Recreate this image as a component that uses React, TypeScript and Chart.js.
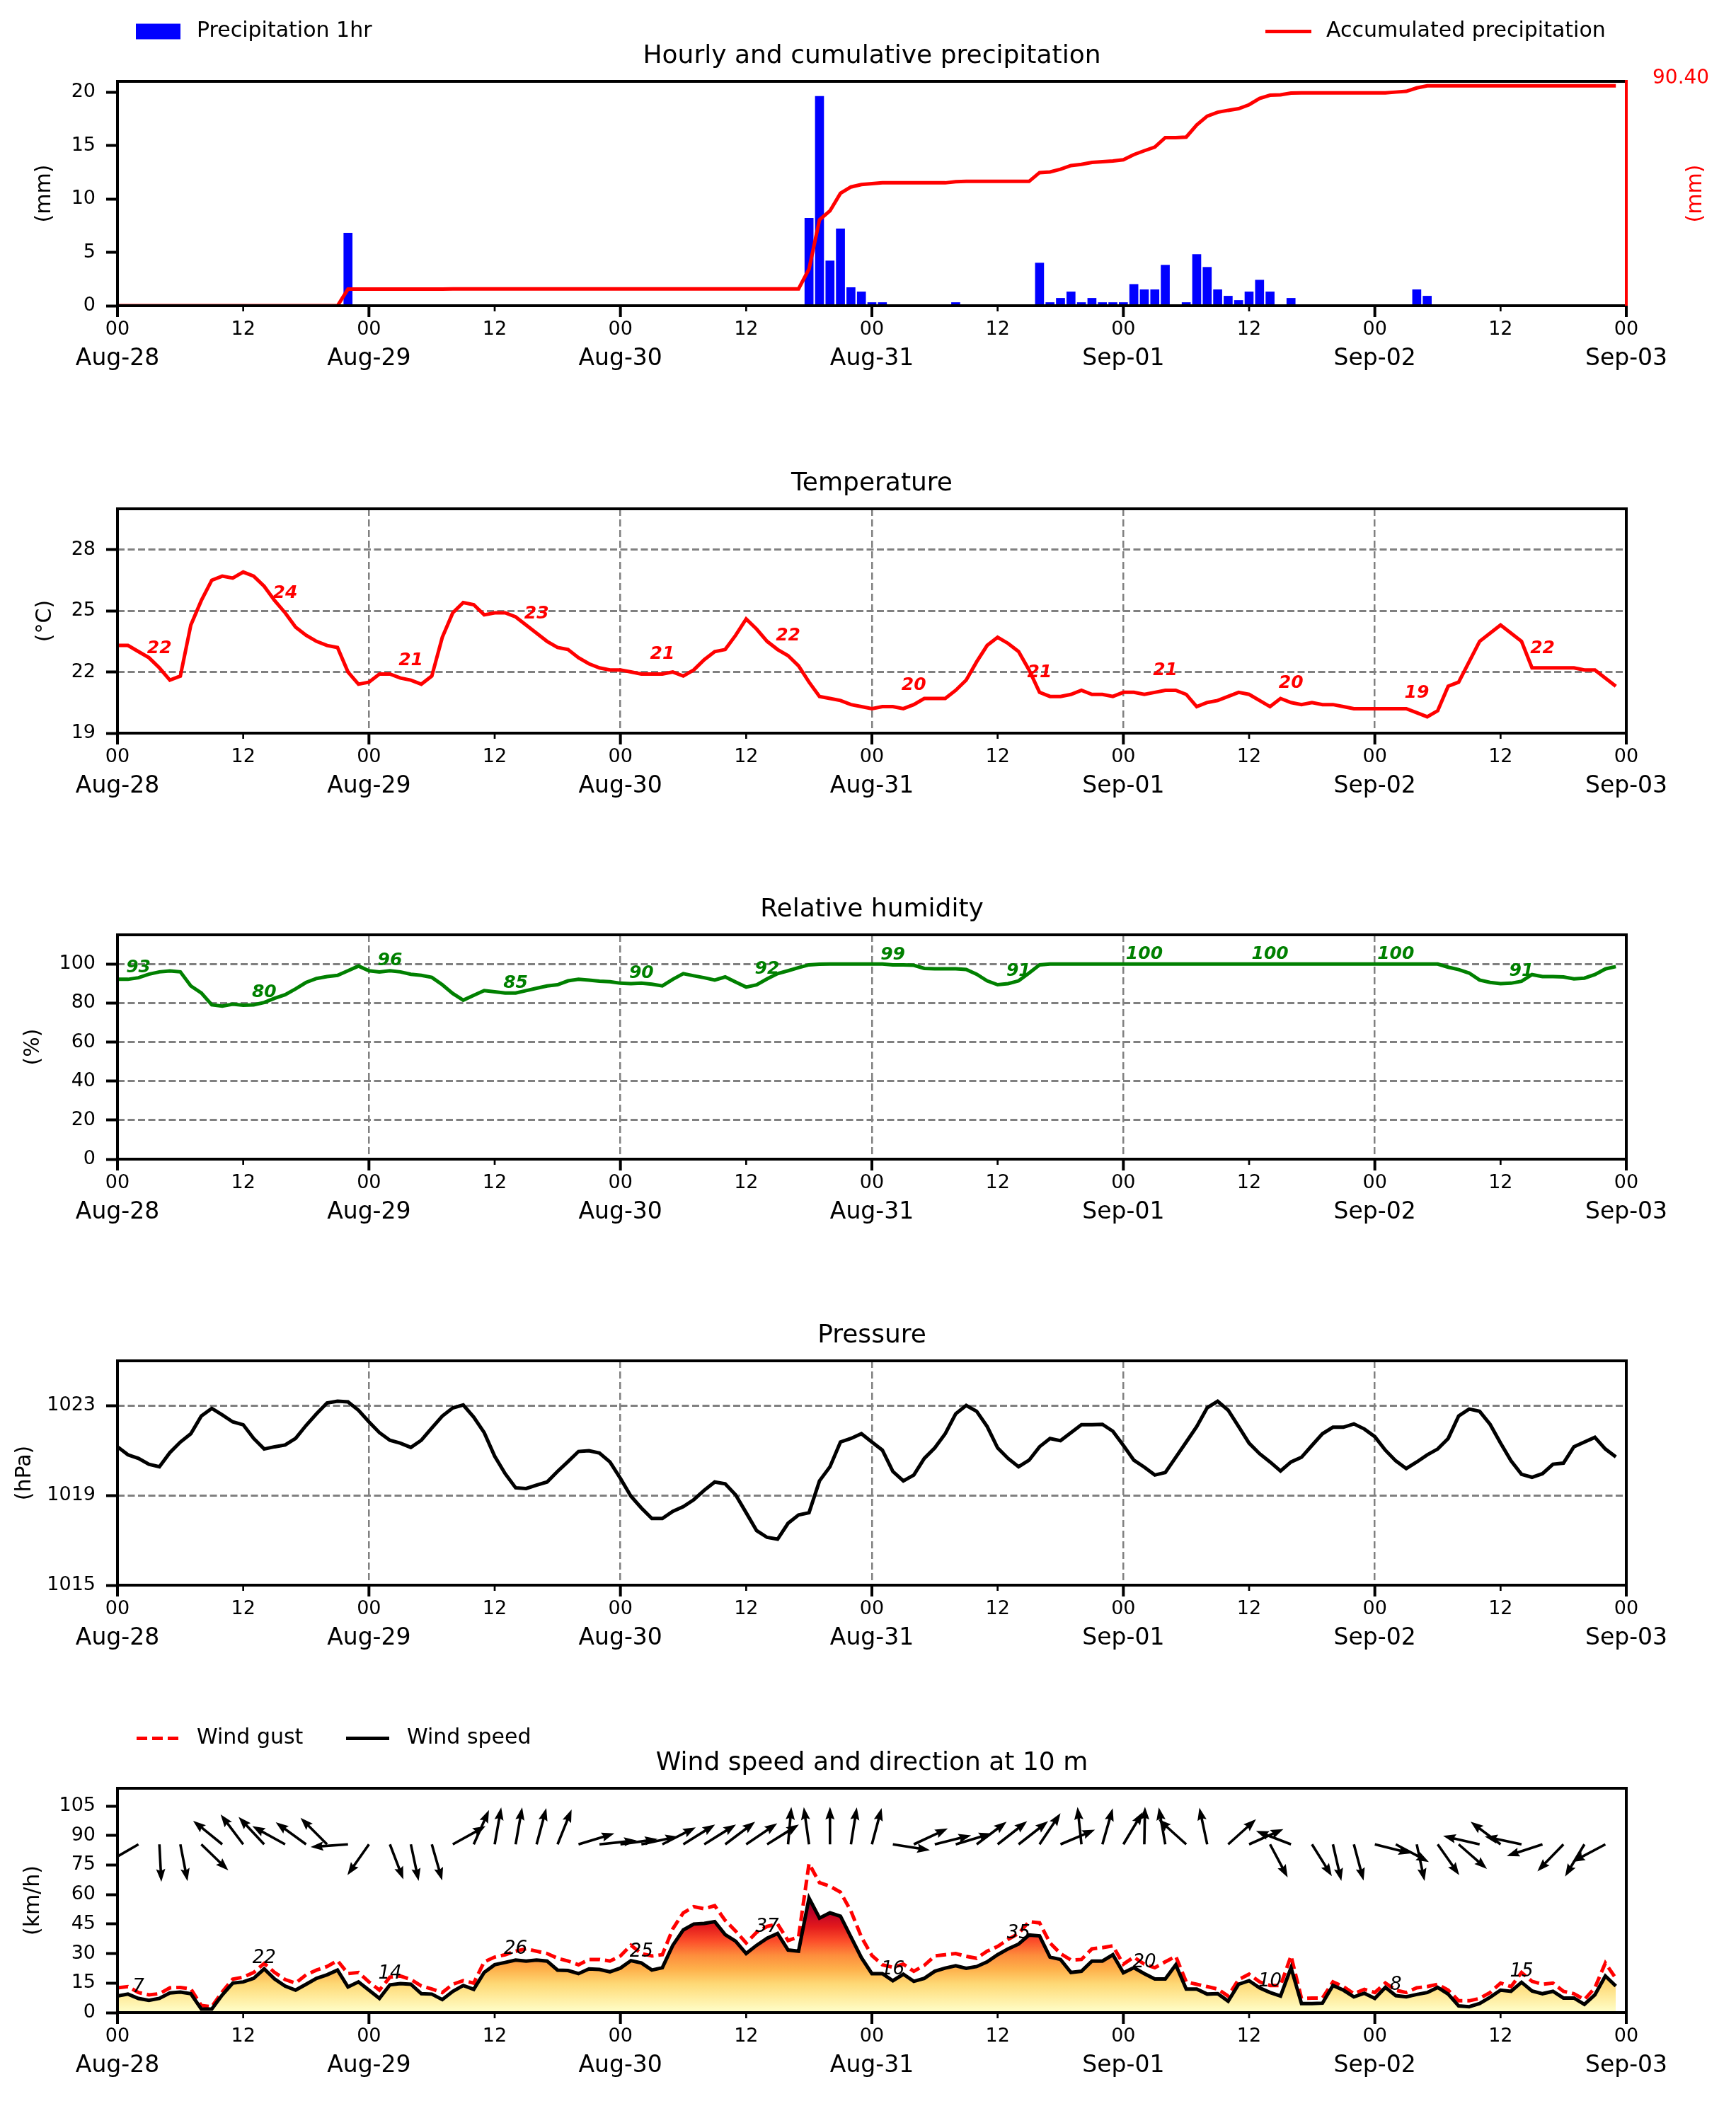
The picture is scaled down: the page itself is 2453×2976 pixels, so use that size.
import React, { useEffect, useRef } from 'react';
import { Chart, registerables } from 'chart.js';

Chart.register(...registerables);

const FONT = 'DejaVu Sans';
Chart.defaults.font.family = FONT;
Chart.defaults.color = '#000';

// ---------------- data ----------------
const dateLabels = ['Aug-28', 'Aug-29', 'Aug-30', 'Aug-31', 'Sep-01', 'Sep-02', 'Sep-03'];
const hourTicks = [0, 12, 24, 36, 48, 60, 72, 84, 96, 108, 120, 132, 144];
const dayTicks = [0, 24, 48, 72, 96, 120, 144];

// precipitation (mm per hour), hour index from Aug-28 00
const precipHours = [22, 32, 66, 67, 68, 69, 70, 71, 72, 73, 80, 81, 88, 89, 90, 91, 92, 93, 94, 95, 96, 97, 98, 99, 100, 101, 102, 103, 104, 105, 106, 107, 108, 109, 110, 111, 112, 113, 122, 123, 124, 125];
const precipValues = [6.8, 0.1, 8.2, 19.6, 4.2, 7.2, 1.7, 1.3, 0.3, 0.3, 0.3, 0.1, 4.0, 0.3, 0.7, 1.3, 0.3, 0.7, 0.3, 0.3, 0.3, 2.0, 1.5, 1.5, 3.8, 0.1, 0.3, 4.8, 3.6, 1.5, 0.9, 0.5, 1.3, 2.4, 1.3, 0.1, 0.7, 0.1, 0.1, 0.1, 1.5, 0.9];
const accumHours = [0, 21, 22, 31, 32, 65, 66, 67, 68, 69, 70, 71, 72, 73, 79, 80, 81, 87, 88, 89, 90, 91, 92, 93, 94, 95, 96, 97, 98, 99, 100, 101, 102, 103, 104, 105, 106, 107, 108, 109, 110, 111, 112, 113, 121, 122, 123, 124, 125, 143];
const accumValues = [0, 0, 6.8, 6.8, 6.9, 6.9, 15.1, 35.3, 39.0, 46.2, 48.8, 49.8, 50.2, 50.5, 50.5, 51.0, 51.1, 51.1, 54.7, 55.0, 56.1, 57.6, 58.1, 58.9, 59.2, 59.5, 60.0, 62.1, 63.7, 65.2, 69.1, 69.1, 69.3, 74.3, 77.9, 79.5, 80.3, 81.0, 82.6, 85.2, 86.5, 86.7, 87.4, 87.5, 87.5, 87.8, 88.1, 89.5, 90.4, 90.4];
const accumTotal = 90.4;
const accumTotalLabel = '90.40';
const precipTicks = [0, 5, 10, 15, 20];

// temperature (°C), hourly
const temperature = [
  23.3, 23.3, 23.0, 22.7, 22.2, 21.6, 21.8, 24.3, 25.5, 26.5,
  26.7, 26.6, 26.9, 26.7, 26.2, 25.5, 24.9, 24.2, 23.8, 23.5,
  23.3, 23.2, 22.0, 21.4, 21.5, 21.9, 21.9, 21.7, 21.6, 21.4,
  21.8, 23.7, 24.9, 25.4, 25.3, 24.8, 24.9, 24.9, 24.7, 24.3,
  23.9, 23.5, 23.2, 23.1, 22.7, 22.4, 22.2, 22.1, 22.1, 22.0,
  21.9, 21.9, 21.9, 22.0, 21.8, 22.1, 22.6, 23.0, 23.1, 23.8,
  24.6, 24.1, 23.5, 23.1, 22.8, 22.3, 21.5, 20.8, 20.7, 20.6,
  20.4, 20.3, 20.2, 20.3, 20.3, 20.2, 20.4, 20.7, 20.7, 20.7,
  21.1, 21.6, 22.5, 23.3, 23.7, 23.4, 23.0, 22.1, 21.0, 20.8,
  20.8, 20.9, 21.1, 20.9, 20.9, 20.8, 21.0, 21.0, 20.9, 21.0,
  21.1, 21.1, 20.9, 20.3, 20.5, 20.6, 20.8, 21.0, 20.9, 20.6,
  20.3, 20.7, 20.5, 20.4, 20.5, 20.4, 20.4, 20.3, 20.2, 20.2,
  20.2, 20.2, 20.2, 20.2, 20.0, 19.8, 20.1, 21.3, 21.5, 22.5,
  23.5, 23.9, 24.3, 23.9, 23.5, 22.2, 22.2, 22.2, 22.2, 22.2,
  22.1, 22.1, 21.7, 21.3,
];
const tempTicks = [19, 22, 25, 28];
const tempLabelHours = [4, 16, 28, 40, 52, 64, 76, 88, 100, 112, 124, 136];
const tempLabelTexts = ['22', '24', '21', '23', '21', '22', '20', '21', '21', '20', '19', '22'];

// relative humidity (%), hourly
const humidity = [
  92.2, 92.2, 93.0, 94.8, 96.0, 96.5, 96.0, 88.8, 85.2, 79.1,
  78.5, 79.4, 78.9, 79.1, 80.3, 82.5, 84.3, 87.3, 90.6, 92.6,
  93.6, 94.2, 96.6, 99.0, 96.6, 96.0, 96.6, 96.0, 94.8, 94.2,
  93.2, 89.4, 84.9, 81.5, 84.0, 86.4, 85.8, 85.2, 85.2, 86.4,
  87.6, 88.8, 89.4, 91.4, 92.2, 91.8, 91.2, 91.0, 90.2, 90.0,
  90.2, 89.7, 88.8, 92.2, 95.1, 94.0, 93.0, 91.8, 93.4, 90.8,
  88.2, 89.4, 92.4, 95.1, 96.6, 98.2, 99.6, 99.9, 100, 100,
  100, 100, 100, 100, 99.6, 99.6, 99.4, 97.8, 97.6, 97.6,
  97.6, 97.2, 94.8, 91.4, 89.4, 90.0, 91.4, 95.4, 99.6, 100,
  100, 100, 100, 100, 100, 100, 100, 100, 100, 100,
  100, 100, 100, 100, 100, 100, 100, 100, 100, 100,
  100, 100, 100, 100, 100, 100, 100, 100, 100, 100,
  100, 100, 100, 100, 100, 100, 100, 98.4, 97.2, 95.4,
  91.8, 90.6, 90.0, 90.2, 91.2, 94.6, 93.6, 93.6, 93.4, 92.4,
  92.8, 94.6, 97.5, 98.7,
];
const humTicks = [0, 20, 40, 60, 80, 100];
const humLabelHours = [2, 14, 26, 38, 50, 62, 74, 86, 98, 110, 122, 134];
const humLabelTexts = ['93', '80', '96', '85', '90', '92', '99', '91', '100', '100', '100', '91'];

// pressure (hPa), hourly
const pressure = [
  1021.17, 1020.81, 1020.65, 1020.39, 1020.28, 1020.91, 1021.38, 1021.75, 1022.54, 1022.88,
  1022.59, 1022.28, 1022.15, 1021.54, 1021.07, 1021.17, 1021.25, 1021.54, 1022.12, 1022.64,
  1023.12, 1023.2, 1023.17, 1022.8, 1022.28, 1021.8, 1021.46, 1021.33, 1021.14, 1021.46,
  1022.01, 1022.54, 1022.9, 1023.03, 1022.49, 1021.8, 1020.75, 1019.97, 1019.34, 1019.31,
  1019.46, 1019.6, 1020.07, 1020.51, 1020.96, 1020.99, 1020.89, 1020.49, 1019.76, 1018.97,
  1018.44, 1017.97, 1017.97, 1018.29, 1018.5, 1018.81, 1019.23, 1019.6, 1019.52, 1019.02,
  1018.23, 1017.43, 1017.13, 1017.05, 1017.76, 1018.13, 1018.23, 1019.65, 1020.28, 1021.38,
  1021.54, 1021.75, 1021.38, 1021.02, 1020.07, 1019.65, 1019.91, 1020.65, 1021.12, 1021.75,
  1022.64, 1023.01, 1022.75, 1022.07, 1021.12, 1020.65, 1020.28, 1020.57, 1021.17, 1021.54,
  1021.44, 1021.8, 1022.15, 1022.15, 1022.17, 1021.86, 1021.23, 1020.57, 1020.26, 1019.91,
  1020.02, 1020.7, 1021.38, 1022.07, 1022.91, 1023.2, 1022.8, 1022.07, 1021.33, 1020.86,
  1020.49, 1020.09, 1020.49, 1020.7, 1021.23, 1021.75, 1022.04, 1022.04, 1022.19, 1021.96,
  1021.62, 1021.02, 1020.54, 1020.2, 1020.49, 1020.81, 1021.07, 1021.54, 1022.54, 1022.85,
  1022.75, 1022.17, 1021.33, 1020.54, 1019.94, 1019.81, 1019.97, 1020.39, 1020.44, 1021.17,
  1021.38, 1021.59, 1021.07, 1020.72,
];
const presTicks = [1015, 1019, 1023];

// wind (km/h), hourly
const windSpeed = [
  8.4, 9.4, 7.2, 6.2, 7.2, 10.0, 10.4, 9.6, 1.8, 1.8,
  9.0, 15.0, 15.6, 17.4, 22.2, 17.1, 13.5, 11.4, 14.4, 17.4,
  19.2, 21.6, 13.0, 15.6, 11.4, 7.2, 14.1, 14.7, 14.4, 9.6,
  9.4, 6.6, 10.8, 13.8, 11.8, 20.4, 24.3, 25.5, 26.7, 26.2,
  26.7, 26.2, 21.6, 21.4, 19.8, 22.2, 21.9, 20.7, 22.6, 26.4,
  25.2, 21.6, 22.8, 34.2, 42.0, 45.0, 45.3, 46.2, 39.6, 36.3,
  30.0, 34.2, 37.8, 40.2, 31.8, 31.2, 58.2, 48.0, 50.7, 49.0,
  38.4, 27.9, 19.8, 19.8, 16.2, 19.5, 15.9, 17.4, 21.0, 22.6,
  23.8, 22.5, 23.4, 25.8, 29.4, 32.4, 34.8, 39.4, 39.0, 28.2,
  27.0, 20.4, 21.0, 26.2, 26.2, 29.4, 20.2, 22.8, 19.8, 17.1,
  17.1, 24.3, 12.0, 12.0, 9.4, 9.6, 5.8, 14.4, 16.2, 12.6,
  10.2, 8.4, 22.8, 4.6, 4.6, 4.8, 13.8, 11.4, 8.0, 9.8,
  7.2, 12.8, 8.6, 8.0, 9.2, 10.2, 12.8, 9.4, 3.4, 3.0,
  4.6, 7.8, 11.4, 10.8, 15.4, 11.0, 9.6, 10.8, 7.4, 7.4,
  4.2, 9.0, 18.6, 13.5,
];
const windGust = [
  12.6, 13.2, 10.2, 9.0, 9.6, 12.6, 12.8, 12.0, 3.6, 3.0,
  10.5, 17.0, 18.0, 20.4, 25.0, 20.4, 16.8, 15.0, 19.2, 21.6,
  23.4, 26.4, 19.8, 20.4, 15.6, 11.4, 18.0, 18.6, 16.8, 13.5,
  12.0, 10.2, 14.4, 16.2, 15.0, 25.8, 28.2, 29.4, 31.2, 32.4,
  31.2, 30.0, 27.6, 26.2, 24.3, 27.0, 27.0, 26.2, 28.8, 34.2,
  30.0, 28.8, 29.4, 42.6, 50.7, 53.8, 52.8, 54.3, 46.8, 41.4,
  35.4, 40.8, 43.8, 45.0, 36.6, 38.4, 75.7, 66.0, 64.2, 61.2,
  51.6, 38.4, 29.0, 24.3, 23.0, 24.6, 21.0, 24.0, 28.8, 29.4,
  30.0, 28.6, 27.6, 31.2, 33.6, 37.2, 40.2, 46.2, 45.6, 35.4,
  30.0, 26.7, 27.0, 32.4, 33.0, 33.9, 24.6, 28.2, 24.6, 22.8,
  25.8, 28.6, 15.6, 14.4, 13.2, 12.0, 8.4, 16.8, 19.5, 15.6,
  13.8, 13.8, 28.8, 7.2, 7.4, 7.4, 15.6, 13.2, 9.6, 11.8,
  10.2, 15.0, 11.4, 10.2, 12.6, 13.2, 14.4, 11.4, 6.0, 6.0,
  7.2, 10.2, 15.0, 13.2, 20.4, 15.9, 14.4, 15.0, 10.8, 9.6,
  6.6, 12.6, 25.2, 17.4,
];
const windTicks = [0, 15, 30, 45, 60, 75, 90, 105];
const windLabelHours = [2, 14, 26, 38, 50, 62, 74, 86, 98, 110, 122, 134];
const windLabelTexts = ['7', '22', '14', '26', '25', '37', '16', '35', '20', '10', '8', '15'];
// wind direction (degrees, meteorological "from"), every 2 hours
const windDirHours = [
  0, 2, 4, 6, 8, 10, 12, 14, 16, 18,
  20, 22, 24, 26, 28, 30, 32, 34, 36, 38,
  40, 42, 44, 46, 48, 50, 52, 54, 56, 58,
  60, 62, 64, 66, 68, 70, 72, 74, 76, 78,
  80, 82, 84, 86, 88, 90, 92, 94, 96, 98,
  100, 102, 104, 106, 108, 110, 112, 114, 116, 118,
  120, 122, 124, 126, 128, 130, 132, 134, 136, 138,
  140, 142,
];
const windDirFrom = [
  60, 60, 357, 349, 314, 129, 143, 137, 119, 126,
  135, 86, 35, 339, 348, 344, 241, 204, 190, 190,
  195, 202, 253, 264, 262, 258, 243, 238, 238, 233,
  236, 238, 185, 172, 180, 189, 195, 279, 245, 256,
  253, 233, 232, 232, 214, 247, 174, 196, 211, 181,
  170, 132, 168, 228, 246, 332, 111, 328, 347, 345,
  284, 298, 348, 325, 311, 103, 127, 102, 72, 44,
  31, 62,
];
const ylOrRd = ['#ffffcc', '#ffeda0', '#fed976', '#feb24c', '#fd8d3c', '#fc4e2a', '#e31a1c', '#bd0026', '#800026'];

// ---------------- layout ----------------
const CANVAS_W = 2453;
const AREA_LEFT = 166;
const AREA_RIGHT = 2298;
const AREA_TOP = 115;
const AREA_H = 317;
const X1_H = 50;
const panelTops = [0, 604, 1206, 1808, 2412];
const panelHeights = [600, 600, 600, 600, 564];
const LINE_W = 5;

const GRID = '#808080';
const CLEAR = 'rgba(0,0,0,0)';

const byIndex = (arr: number[]) => arr.map((v, i) => ({ x: i, y: v }));
const pairs = (xs: number[], ys: number[]) => xs.map((x, i) => ({ x, y: ys[i] }));

function xAxes(vgrid: boolean, x2h: number) {
  return {
    x: {
      type: 'linear', position: 'bottom', min: 0, max: 144, offset: false,
      afterBuildTicks: (s: any) => { s.ticks = hourTicks.map((v) => ({ value: v })); },
      afterFit: (s: any) => { s.height = X1_H; },
      ticks: {
        autoSkip: false, maxRotation: 0, minRotation: 0, padding: 17.5, color: '#000',
        font: { size: 27, family: FONT },
        callback: (v: number) => (Math.round(v) % 24 === 0 ? '00' : '12'),
      },
      grid: {
        display: true, drawTicks: false, offset: false, lineWidth: 2.5,
        color: (c: any) => (vgrid && c.tick && c.tick.value % 24 === 0 && c.tick.value > 0 && c.tick.value < 144 ? GRID : CLEAR),
      },
      border: { display: false, dash: [10, 5] },
    },
    x2: {
      type: 'linear', position: 'bottom', min: 0, max: 144, offset: false,
      afterBuildTicks: (s: any) => { s.ticks = dayTicks.map((v) => ({ value: v })); },
      afterFit: (s: any) => { s.height = x2h; },
      ticks: {
        autoSkip: false, maxRotation: 0, minRotation: 0, padding: -2, color: '#000',
        font: { size: 33, family: FONT },
        callback: (v: number) => dateLabels[Math.round(v / 24)],
      },
      grid: { display: false, offset: false },
      border: { display: false },
    },
  };
}

function yAxis(min: number, max: number, ticks: number[], grid: boolean) {
  return {
    type: 'linear', position: 'left', min, max,
    afterBuildTicks: (s: any) => { s.ticks = ticks.map((v) => ({ value: v })); },
    afterFit: (s: any) => { s.width = AREA_LEFT; },
    ticks: { padding: 15, color: '#000', font: { size: 27, family: FONT }, callback: (v: number) => String(v) },
    grid: {
      display: true, drawTicks: true, tickLength: 16, tickWidth: 4, tickColor: '#000', lineWidth: 3,
      color: (c: any) => (grid && c.tick && c.tick.value !== ticks[0] ? GRID : CLEAR),
    },
    border: { display: false, dash: [10, 4.5] },
  };
}

function baseOptions(scales: any, padRight: number) {
  return {
    responsive: false,
    maintainAspectRatio: false,
    animation: false,
    events: [],
    layout: { padding: { top: AREA_TOP, left: 0, right: padRight, bottom: 0 } },
    plugins: { legend: { display: false }, title: { display: false }, tooltip: { enabled: false } },
    scales,
  };
}

function drawArrow(ctx: CanvasRenderingContext2D, x0: number, y0: number, ux: number, uy: number, L: number) {
  const sw = 3.6, hl = 18, hal = 16, hw = 6.5;
  const px = -uy, py = ux;
  const tipX = x0 + ux * L, tipY = y0 + uy * L;
  const bx = x0 + ux * (L - hal), by = y0 + uy * (L - hal);
  const hx = x0 + ux * (L - hl), hy = y0 + uy * (L - hl);
  ctx.beginPath();
  ctx.moveTo(x0 + px * sw / 2, y0 + py * sw / 2);
  ctx.lineTo(bx + px * sw / 2, by + py * sw / 2);
  ctx.lineTo(hx + px * hw, hy + py * hw);
  ctx.lineTo(tipX, tipY);
  ctx.lineTo(hx - px * hw, hy - py * hw);
  ctx.lineTo(bx - px * sw / 2, by - py * sw / 2);
  ctx.lineTo(x0 - px * sw / 2, y0 - py * sw / 2);
  ctx.closePath();
  ctx.fill();
}

function decor(d: any) {
  return {
    id: 'decor',
    afterDatasetsDraw(chart: any) {
      const { ctx, chartArea: a, scales } = chart;
      const xs = scales.x, ys = scales.y;
      ctx.save();
      if (d.arrows) {
        ctx.save();
        ctx.beginPath();
        ctx.rect(a.left, a.top, a.right - a.left, a.bottom - a.top);
        ctx.clip();
        ctx.fillStyle = '#000';
        d.arrows.hours.forEach((h: number, i: number) => {
          const x0 = xs.getPixelForValue(h);
          const y0 = ys.getPixelForValue(d.arrows.level);
          const toward = ((d.arrows.from[i] + 180) % 360) * Math.PI / 180;
          drawArrow(ctx, x0, y0, Math.sin(toward), -Math.cos(toward), d.arrows.len);
        });
        ctx.restore();
      }
      if (d.notes) {
        ctx.font = d.notes.font;
        ctx.fillStyle = d.notes.color;
        ctx.textAlign = 'center';
        ctx.textBaseline = 'alphabetic';
        d.notes.hours.forEach((h: number, i: number) => {
          const x = xs.getPixelForValue(h);
          const y = ys.getPixelForValue(d.notes.series[h]) - d.notes.lift;
          ctx.fillText(d.notes.texts[i], x, y);
        });
      }
      // frame
      ctx.lineWidth = 4;
      ctx.strokeStyle = '#000';
      ctx.strokeRect(a.left, a.top, a.right - a.left, a.bottom - a.top);
      if (d.rightSpine) {
        ctx.strokeStyle = d.rightSpine;
        ctx.beginPath();
        ctx.moveTo(a.right, a.top - 2);
        ctx.lineTo(a.right, a.bottom + 2);
        ctx.stroke();
      }
      // x tick marks
      ctx.strokeStyle = '#000';
      hourTicks.forEach((v) => {
        const x = xs.getPixelForValue(v);
        const major = v % 24 === 0;
        ctx.lineWidth = major ? 4 : 2.7;
        ctx.beginPath();
        ctx.moveTo(x, a.bottom);
        ctx.lineTo(x, a.bottom + (major ? 16 : 8));
        ctx.stroke();
      });
      ctx.restore();
    },
    afterDraw(chart: any) {
      const { ctx, chartArea: a } = chart;
      ctx.save();
      ctx.fillStyle = '#000';
      ctx.font = `36px ${FONT}`;
      ctx.textAlign = 'center';
      ctx.textBaseline = 'alphabetic';
      ctx.fillText(d.title, (a.left + a.right) / 2, a.top - 26.5);
      const ylab = (text: string, x: number, color: string) => {
        ctx.save();
        ctx.translate(x, (a.top + a.bottom) / 2);
        ctx.rotate(-Math.PI / 2);
        ctx.font = `30px ${FONT}`;
        ctx.fillStyle = color;
        ctx.textAlign = 'center';
        ctx.textBaseline = 'middle';
        ctx.fillText(text, 0, 0);
        ctx.restore();
      };
      ylab(d.ylabel, d.ylabelX, '#000');
      if (d.ylabel2) ylab(d.ylabel2.text, d.ylabel2.x, d.ylabel2.color);
      if (d.legend) {
        const ly = 44.5;
        d.legend.forEach((it: any) => {
          ctx.save();
          if (it.kind === 'patch') {
            ctx.fillStyle = it.color;
            ctx.fillRect(it.x0, ly - 11, it.x1 - it.x0, 22);
          } else {
            ctx.strokeStyle = it.color;
            ctx.lineWidth = LINE_W;
            ctx.setLineDash(it.kind === 'dash' ? [15, 7] : []);
            ctx.beginPath();
            ctx.moveTo(it.x0, ly);
            ctx.lineTo(it.x1, ly);
            ctx.stroke();
          }
          ctx.restore();
          ctx.fillStyle = '#000';
          ctx.font = `30px ${FONT}`;
          ctx.textAlign = 'left';
          ctx.textBaseline = 'middle';
          ctx.fillText(it.text, it.tx, ly);
        });
      }
      ctx.restore();
    },
  };
}

const lineBase = { type: 'line', pointRadius: 0, borderWidth: LINE_W, tension: 0, fill: false, xAxisID: 'x', yAxisID: 'y' };

function precipConfig(h: number) {
  const scales: any = {
    ...xAxes(false, h - AREA_TOP - AREA_H - X1_H),
    y: yAxis(0, 21, precipTicks, false),
    y2: {
      type: 'linear', position: 'right', min: 0, max: 92.2,
      afterBuildTicks: (s: any) => { s.ticks = [{ value: accumTotal }]; },
      afterFit: (s: any) => { s.width = CANVAS_W - AREA_RIGHT; },
      ticks: { padding: 37, color: '#ff0000', font: { size: 28, family: FONT }, labelOffset: -10, callback: () => accumTotalLabel },
      grid: { display: false, drawOnChartArea: false, drawTicks: false },
      border: { display: false },
    },
  };
  return {
    type: 'bar',
    data: {
      datasets: [
        { ...lineBase, label: 'Accumulated precipitation', data: pairs(accumHours, accumValues), borderColor: '#ff0000', yAxisID: 'y2' },
        { type: 'bar', label: 'Precipitation 1hr', data: pairs(precipHours, precipValues), backgroundColor: '#0000ff', borderWidth: 0, barThickness: 12, xAxisID: 'x', yAxisID: 'y' },
      ],
    },
    options: baseOptions(scales, 0),
    plugins: [decor({
      title: 'Hourly and cumulative precipitation',
      ylabel: '(mm)', ylabelX: 63,
      ylabel2: { text: '(mm)', x: 2396, color: '#ff0000' },
      rightSpine: '#ff0000',
      legend: [
        { kind: 'patch', color: '#0000ff', x0: 192, x1: 255, text: 'Precipitation 1hr', tx: 278 },
        { kind: 'line', color: '#ff0000', x0: 1788, x1: 1853, text: 'Accumulated precipitation', tx: 1874 },
      ],
    })],
  };
}

function tempConfig(h: number) {
  return {
    type: 'line',
    data: { datasets: [{ ...lineBase, label: 'Temperature', data: byIndex(temperature), borderColor: '#ff0000' }] },
    options: baseOptions({ ...xAxes(true, h - AREA_TOP - AREA_H - X1_H), y: yAxis(19, 30, tempTicks, true) }, CANVAS_W - AREA_RIGHT),
    plugins: [decor({
      title: 'Temperature', ylabel: '(°C)', ylabelX: 64,
      notes: { hours: tempLabelHours, texts: tempLabelTexts, series: temperature, color: '#ff0000', font: `italic bold 25px ${FONT}`, lift: 21 },
    })],
  };
}

function humConfig(h: number) {
  return {
    type: 'line',
    data: { datasets: [{ ...lineBase, label: 'Relative humidity', data: byIndex(humidity), borderColor: '#008000' }] },
    options: baseOptions({ ...xAxes(true, h - AREA_TOP - AREA_H - X1_H), y: yAxis(0, 115, humTicks, true) }, CANVAS_W - AREA_RIGHT),
    plugins: [decor({
      title: 'Relative humidity', ylabel: '(%)', ylabelX: 47,
      notes: { hours: humLabelHours, texts: humLabelTexts, series: humidity, color: '#008000', font: `italic bold 25px ${FONT}`, lift: 7.5 },
    })],
  };
}

function presConfig(h: number) {
  return {
    type: 'line',
    data: { datasets: [{ ...lineBase, label: 'Pressure', data: byIndex(pressure), borderColor: '#000000' }] },
    options: baseOptions({ ...xAxes(true, h - AREA_TOP - AREA_H - X1_H), y: yAxis(1015, 1025, presTicks, true) }, CANVAS_W - AREA_RIGHT),
    plugins: [decor({ title: 'Pressure', ylabel: '(hPa)', ylabelX: 35 })],
  };
}

function windConfig(h: number) {
  const maxSpeed = Math.max(...windSpeed);
  const fillGradient = (c: any) => {
    const chart = c.chart;
    const { ctx, chartArea, scales } = chart;
    if (!chartArea || !scales.y) return CLEAR;
    const y0 = scales.y.getPixelForValue(0);
    const y1 = scales.y.getPixelForValue(maxSpeed);
    const g = ctx.createLinearGradient(0, y0, 0, y1);
    ylOrRd.forEach((col, i) => g.addColorStop(i / (ylOrRd.length - 1), col));
    return g;
  };
  return {
    type: 'line',
    data: {
      datasets: [
        { ...lineBase, label: 'Wind speed', data: byIndex(windSpeed), borderColor: '#000000', fill: 'origin', backgroundColor: fillGradient },
        { ...lineBase, label: 'Wind gust', data: byIndex(windGust), borderColor: '#ff0000', borderDash: [15, 7] },
      ],
    },
    options: baseOptions({ ...xAxes(false, h - AREA_TOP - AREA_H - X1_H), y: yAxis(0, 114, windTicks, false) }, CANVAS_W - AREA_RIGHT),
    plugins: [decor({
      title: 'Wind speed and direction at 10 m', ylabel: '(km/h)', ylabelX: 47,
      notes: { hours: windLabelHours, texts: windLabelTexts, series: windSpeed, color: '#000000', font: `italic 26px ${FONT}`, lift: 8.5 },
      arrows: { hours: windDirHours, from: windDirFrom, level: 85.5, len: 53 },
      legend: [
        { kind: 'dash', color: '#ff0000', x0: 193, x1: 256, text: 'Wind gust', tx: 278 },
        { kind: 'line', color: '#000000', x0: 489, x1: 550, text: 'Wind speed', tx: 575 },
      ],
    })],
  };
}

const panelBuilders = [precipConfig, tempConfig, humConfig, presConfig, windConfig];

function Panel({ top, height, build }: { top: number; height: number; build: (h: number) => any }) {
  const ref = useRef<HTMLCanvasElement>(null);
  useEffect(() => {
    if (!ref.current) return;
    const chart = new Chart(ref.current, build(height));
    return () => chart.destroy();
  }, [top, height, build]);
  return (
    <canvas
      ref={ref}
      width={CANVAS_W}
      height={height}
      style={{ position: 'absolute', left: 0, top, width: CANVAS_W, height, display: 'block' }}
    />
  );
}

export default function App() {
  return (
    <div style={{ position: 'absolute', left: 0, top: 0, width: CANVAS_W, height: 2976, background: '#ffffff', overflow: 'hidden' }}>
      {panelBuilders.map((b, i) => (
        <Panel key={i} top={panelTops[i]} height={panelHeights[i]} build={b} />
      ))}
    </div>
  );
}
